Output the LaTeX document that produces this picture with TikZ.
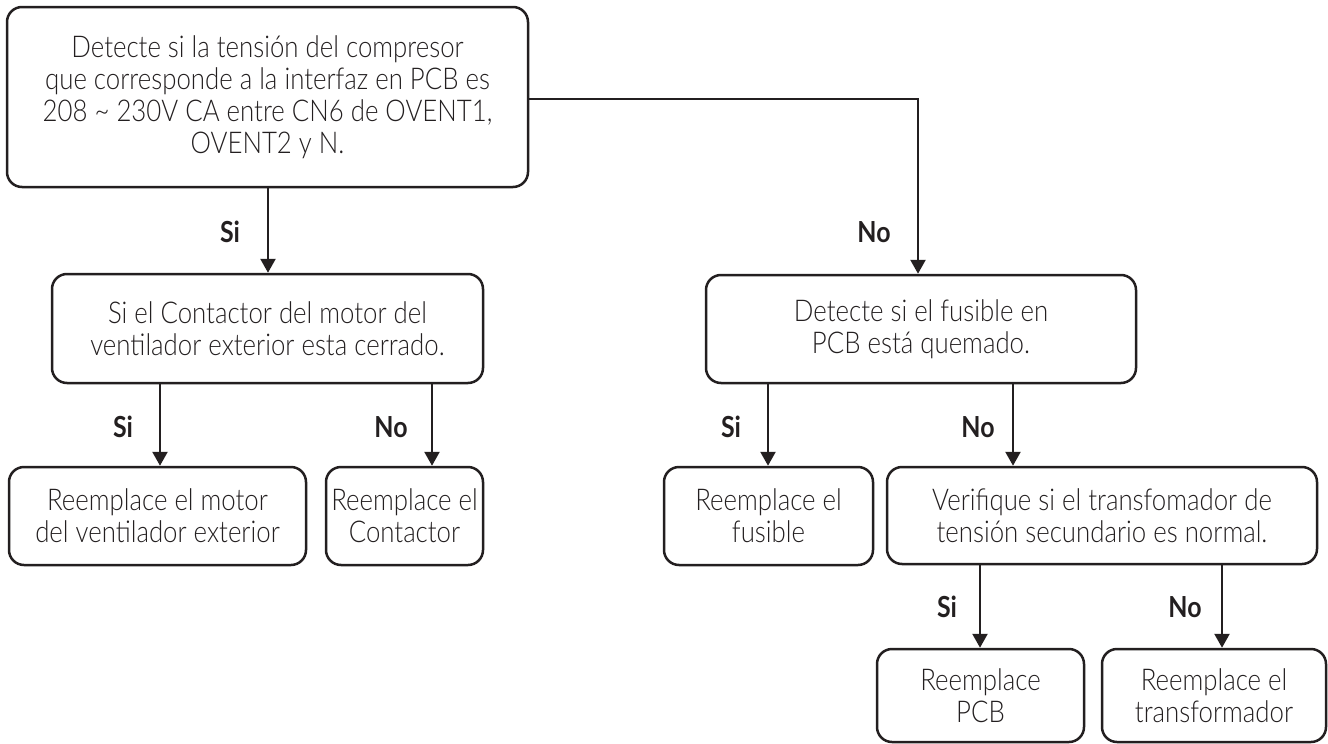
\documentclass[tikz,border=0pt]{standalone}
\usepackage{fontspec}
\setmainfont{Lato}[FakeStretch=0.86,UprightFont=* Light,BoldFont=* Bold]
\usetikzlibrary{arrows.meta}
\definecolor{ink}{HTML}{231F20}
\begin{document}
\begin{tikzpicture}[x=1pt,y=-1pt,
  box/.style={draw=ink,line width=2.5pt,rounded corners=15pt,align=center,
    inner sep=0pt,text=ink,font=\fontsize{30}{32}\selectfont},
  lbl/.style={text=ink,font=\fontsize{29}{32}\selectfont\bfseries,inner sep=0pt},
  arr/.style={draw=ink,line width=2.5pt,-{Triangle[width=15pt,length=14pt]}}]
\useasboundingbox (0,0) rectangle (1328,744);
\node[box,minimum width=521pt,minimum height=180pt] (A) at (267.5,97)
  {Detecte si la tensión del compresor\\que corresponde a la interfaz en PCB es\\208 \textasciitilde{} 230V CA entre CN6 de OVENT1,\\OVENT2 y N.};
\node[box,minimum width=431pt,minimum height=109pt] (B) at (267.5,328.5)
  {Si el Contactor del motor del\\ventilador exterior esta cerrado.};
\node[box,minimum width=430pt,minimum height=108pt] (C) at (921,329)
  {Detecte si el fusible en\\PCB está quemado.};
\node[box,minimum width=297pt,minimum height=98pt] (D) at (157.5,516)
  {Reemplace el motor\\del ventilador exterior};
\node[box,minimum width=157pt,minimum height=98pt] (E) at (404.5,516)
  {Reemplace el\\Contactor};
\node[box,minimum width=209pt,minimum height=98pt] (F) at (768.5,516)
  {Reemplace el\\fusible};
\node[box,minimum width=430pt,minimum height=97pt] (G) at (1102,515.5)
  {Verifique si el transfomador de\\tensión secundario es normal.};
\node[box,minimum width=207pt,minimum height=93pt] (H) at (980.5,695.5)
  {Reemplace\\PCB};
\node[box,minimum width=224pt,minimum height=93pt] (I) at (1214,695.5)
  {Reemplace el\\transformador};
\coordinate (xab) at (268,0);
\coordinate (xac) at (918,0);
\coordinate (xbd) at (160,0);
\coordinate (xbe) at (432,0);
\coordinate (xcf) at (768,0);
\coordinate (xcg) at (1013,0);
\coordinate (xgh) at (980,0);
\coordinate (xgi) at (1222,0);
\coordinate (yac) at (0,99);
\draw[arr] (A.south -| xab) -- (B.north -| xab);
\draw[arr] (A.east |- yac) -| (C.north -| xac);
\draw[arr] (B.south -| xbd) -- (D.north -| xbd);
\draw[arr] (B.south -| xbe) -- (E.north -| xbe);
\draw[arr] (C.south -| xcf) -- (F.north -| xcf);
\draw[arr] (C.south -| xcg) -- (G.north -| xcg);
\draw[arr] (G.south -| xgh) -- (H.north -| xgh);
\draw[arr] (G.south -| xgi) -- (I.north -| xgi);
\node[lbl] (l1) at (230,232) {Si};
\node[lbl] (l2) at (874,232) {No};
\node[lbl] (l3) at (123,427) {Si};
\node[lbl] (l4) at (391,427) {No};
\node[lbl] (l5) at (731,427) {Si};
\node[lbl] (l6) at (978,427) {No};
\node[lbl] (l7) at (947,607) {Si};
\node[lbl] (l8) at (1185,607) {No};
\end{tikzpicture}
\end{document}
